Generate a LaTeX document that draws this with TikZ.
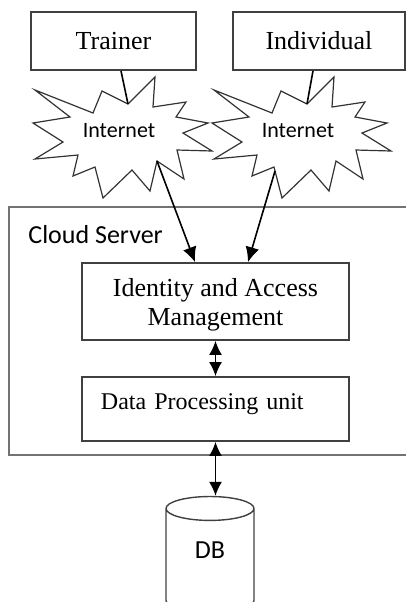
\documentclass[tikz,border=0pt]{standalone}
\usepackage{fontspec}
\setmainfont{Liberation Serif}
\newfontfamily\calibri{Carlito}
\usetikzlibrary{arrows.meta,shapes.geometric}

\begin{document}
\begin{tikzpicture}[x=0.5pt, y=-0.5pt,
    box/.style={draw=black!75, line width=0.9pt, font=\fontsize{13}{14.5}\selectfont},
    frame/.style={draw=black!55, line width=0.9pt},
    burstline/.style={draw=black!80, line width=0.6pt, line join=miter},
    link/.style={line width=0.8pt},
    arr/.style={link, -{Latex[length=7.5pt,width=7pt]}},
    darr/.style={link, {Latex[length=7pt,width=6.5pt]}-{Latex[length=7pt,width=6.5pt]}},
    burst/.pic={
      \draw[burstline] (-84,-41) -- (-26,-18) -- (-17,-40) -- (9,-27) -- (36,-54) -- (34,-24)
        -- (67,-29) -- (57,-14) -- (89,-8) -- (64,2) -- (93,20) -- (58,19) -- (65,48)
        -- (38,30) -- (31,60) -- (13,39) -- (-16,67) -- (-24,36) -- (-46,45) -- (-41,24)
        -- (-84,28) -- (-56,11) -- (-86,-8) -- (-49,-14) -- cycle;
      \coordinate (-top) at (9,-27);
      \coordinate (-botR) at (38,30);
      \coordinate (-botL) at (-23,40);
    }]

    % page
    \useasboundingbox (0,0) rectangle (406,602);
    \clip (0,0) rectangle (406,602);

    % users
    \node[box, minimum width=82.5pt, minimum height=29pt] (trainer) at (113.5,41) {Trainer};
    \node[box, minimum width=86pt, minimum height=29pt] (indiv) at (319,41) {Individual};

    % internet
    \pic (net1) at (119,131) {burst};
    \pic (net2) at (298,131) {burst};
    \node[font=\calibri\fontsize{11}{13}\selectfont] (inet1) at (119,131) {Internet};
    \node[font=\calibri\fontsize{11}{13}\selectfont] (inet2) at (298,131) {Internet};

    \draw[link] ([xshift=3.75pt]trainer.south) -- (net1-top);
    \draw[link] ([xshift=-3pt]indiv.south) -- (net2-top);

    % cloud server (runs off the right edge)
    \draw[frame] (440,207) -- (9,207) -- (9,455) -- (440,455);
    \node[anchor=base west, inner sep=0pt, font=\calibri\fontsize{13}{15}\selectfont] (cloud) at (28,243) {Cloud Server};

    \node[box, minimum width=133.5pt, minimum height=38.5pt, align=center, text depth=0pt] (iam) at (215.5,301.5) {Identity and Access\\Management};
    \node[box, minimum height=32pt, text width=114.5pt, inner xsep=9.5pt, align=left,
      text height=6pt, text depth=6pt, font=\fontsize{12}{14}\selectfont] (dpu) at (215.5,409) {Data Processing unit};

    \draw[arr] (net1-botR) -- ([xshift=-10.25pt]iam.north);
    \draw[arr] (net2-botL) -- ([xshift=16.25pt]iam.north);
    \draw[darr] (iam.south) -- (dpu.north);

    % database (runs off the bottom edge)
    \node[draw=black!75, line width=0.7pt, cylinder, shape border rotate=90, aspect=0.55,
      minimum width=44pt, minimum height=58pt, text height=6pt, text depth=12pt,
      font=\calibri\fontsize{13}{15}\selectfont] (db) at (210,564) {DB};
    \draw[darr] (dpu.south) -- (dpu.south |- db.top);

\end{tikzpicture}
\end{document}
